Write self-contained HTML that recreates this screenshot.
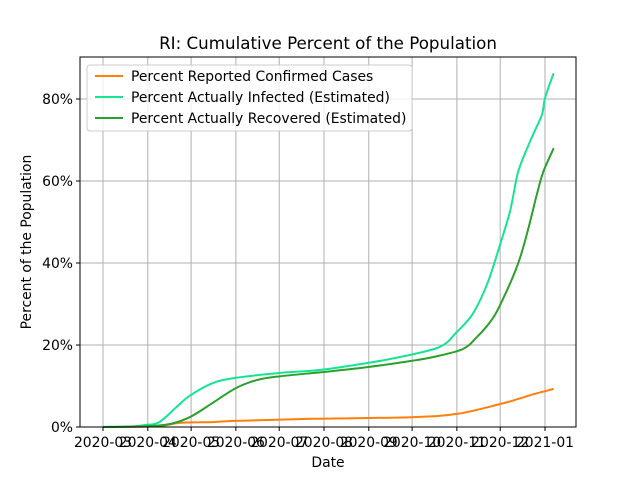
<!DOCTYPE html>
<html><head><meta charset="utf-8"><style>
body{margin:0;background:#fff;}
svg text{font-family:"DejaVu Sans","Liberation Sans",sans-serif;fill:#000;}
</style></head><body>
<svg id="chart" width="640" height="480" xmlns="http://www.w3.org/2000/svg">
<rect width="640" height="480" fill="#fff"/>
<g id="grid"></g>
<g id="series"></g>
<rect x="80" y="57" width="496" height="370" fill="none" stroke="#000" stroke-width="1"/>
<g id="ticks"></g>
<text x="328" y="49" font-size="16.7" text-anchor="middle">RI: Cumulative Percent of the Population</text>
<text x="328" y="467" font-size="13.9" text-anchor="middle">Date</text>
<text transform="translate(31,242) rotate(-90)" font-size="13.9" text-anchor="middle">Percent of the Population</text>
<g>
<rect x="87" y="65" width="325" height="66" rx="3" fill="#fff" fill-opacity="0.8" stroke="#ccc"/>
<line x1="95" y1="76" x2="123" y2="76" stroke="#ff7f0e" stroke-width="2"/>
<text x="131" y="81" font-size="13.9">Percent Reported Confirmed Cases</text>
<line x1="95" y1="97" x2="123" y2="97" stroke="#17e394" stroke-width="2"/>
<text x="131" y="102" font-size="13.9">Percent Actually Infected (Estimated)</text>
<line x1="95" y1="118" x2="123" y2="118" stroke="#2ca02c" stroke-width="2"/>
<text x="131" y="123" font-size="13.9">Percent Actually Recovered (Estimated)</text>
</g>
</svg>
<script>
const xTickLabels=["2020-03","2020-04","2020-05","2020-06","2020-07","2020-08","2020-09","2020-10","2020-11","2020-12","2021-01"];
const xTickDays=[0,31,61,92,122,153,184,214,245,275,306];
const yTickValues=[0,20,40,60,80];
const infectedDays=[0,19,30,39,51,60,76,92,123,150,183,206,233,245,256,266,275,282,287,292,298,304,306,312];
const infectedPct=[0,0.1,0.5,1.2,4.9,7.6,10.7,12.0,13.2,13.9,15.6,17.1,19.5,23.2,27.6,34.9,44.6,52.9,61.7,66.6,71.5,76.3,80.2,86.3];
const recoveredDays=[0,30,46,60,76,92,107,123,152,183,213,229,249,259,268,275,287,294,301,305,312];
const recoveredPct=[0,0.2,0.7,2.4,5.9,9.5,11.5,12.4,13.4,14.6,16.1,17.1,19.0,22.0,25.6,29.8,39.5,47.8,57.6,62.4,68.0];
const confirmedDays=[0,37,53,76,92,145,213,245,275,287,298,312];
const confirmedPct=[0,0.2,1.0,1.2,1.5,2.0,2.4,3.2,5.6,6.8,8.0,9.3];

const NS="http://www.w3.org/2000/svg";
function xs(d){return 103+d*1.4444;}
function ys(v){return 427-v*4.1;}
function mk(tag,attrs,parent){const e=document.createElementNS(NS,tag);for(const k in attrs)e.setAttribute(k,attrs[k]);parent.appendChild(e);return e;}
const grid=document.getElementById('grid'),ticks=document.getElementById('ticks'),series=document.getElementById('series');
xTickDays.forEach((d,i)=>{
  const x=xs(d);
  const g=mk('line',{x1:x,x2:x,y1:57,y2:427,stroke:'#b0b0b0','stroke-width':1},grid);
  
  
  const t=mk('line',{x1:x,x2:x,y1:427,y2:431,stroke:'#000'},ticks);
  
  
  const l=mk('text',{x:x,y:447,'font-size':13.9,'text-anchor':'middle'},ticks);
  l.textContent=xTickLabels[i];
  
  
});
yTickValues.forEach(v=>{
  const y=ys(v);
  const g=mk('line',{x1:80,x2:576,y1:y,y2:y,stroke:'#b0b0b0','stroke-width':1},grid);
  
  
  const t=mk('line',{x1:76,x2:80,y1:y,y2:y,stroke:'#000'},ticks);
  
  
  const l=mk('text',{x:73,y:y+5,'font-size':13.9,'text-anchor':'end'},ticks);
  l.textContent=v+'%';
  
  
});
function line(days,vals,color,name){
  const P=days.map((d,i)=>[xs(d),ys(vals[i])]);
  let dstr='M'+P[0][0].toFixed(1)+','+P[0][1].toFixed(1);
  for(let i=0;i<P.length-1;i++){
    const p0=P[Math.max(0,i-1)],p1=P[i],p2=P[i+1],p3=P[Math.min(P.length-1,i+2)];
    const c1=[p1[0]+(p2[0]-p0[0])/6,p1[1]+(p2[1]-p0[1])/6];
    const c2=[p2[0]-(p3[0]-p1[0])/6,p2[1]-(p3[1]-p1[1])/6];
    dstr+=' C'+c1[0].toFixed(1)+','+c1[1].toFixed(1)+' '+c2[0].toFixed(1)+','+c2[1].toFixed(1)+' '+p2[0].toFixed(1)+','+p2[1].toFixed(1);
  }
  const p=mk('path',{d:dstr,fill:'none',stroke:color,'stroke-width':2,'stroke-linejoin':'round'},series);
  
  
}
line(confirmedDays,confirmedPct,'#ff7f0e','line-confirmed-cases');
line(infectedDays,infectedPct,'#17e394','line-actually-infected');
line(recoveredDays,recoveredPct,'#2ca02c','line-actually-recovered');
</script>
</body></html>
